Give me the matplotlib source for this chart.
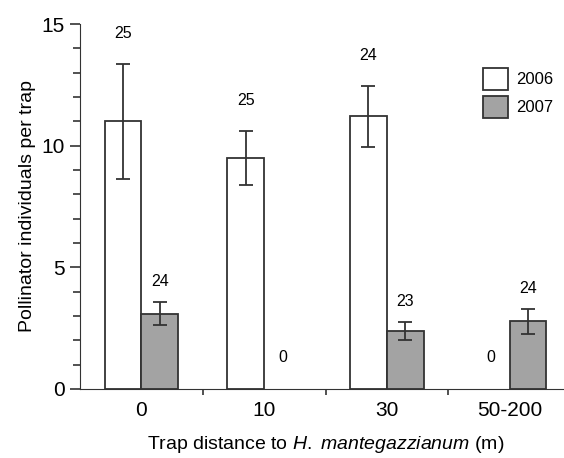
import numpy as np
import matplotlib
matplotlib.use('Agg')
import matplotlib.pyplot as plt
from matplotlib.ticker import MultipleLocator, FixedLocator

plt.rcParams['font.family'] = ['Liberation Sans', 'DejaVu Sans']
plt.rcParams['mathtext.fontset'] = 'custom'
plt.rcParams['mathtext.it'] = 'Liberation Sans:italic'
plt.rcParams['mathtext.rm'] = 'Liberation Sans'

# data
categories = ['0', '10', '30', '50-200']
mean_2006 = [11.0, 9.5, 11.2, 0.0]
err_2006 = [2.35, 1.1, 1.25, 0.0]
n_2006 = ['25', '25', '24', '0']
mean_2007 = [3.1, 0.0, 2.38, 2.78]
err_2007 = [0.48, 0.0, 0.37, 0.5]
n_2007 = ['24', '0', '23', '24']

fig = plt.figure(figsize=(5.64, 4.58), dpi=100)
ax = fig.add_axes([80 / 564, 1 - 389 / 458, 491 / 564, 365 / 458])

x = np.arange(len(categories))
w = 0.3
edge = '#333333'

for xs, m, e, col, lab in [(x - w / 2, mean_2006, err_2006, 'white', '2006'),
                           (x + w / 2, mean_2007, err_2007, '#a3a3a3', '2007')]:
    m = np.array(m)
    e = np.array(e)
    show = m > 0
    ax.bar(xs[show], m[show], width=w, color=col, edgecolor=edge, linewidth=1.3, label=lab)
    ax.errorbar(xs[show], m[show], yerr=e[show], fmt='none', ecolor=edge,
                elinewidth=1.3, capsize=5, capthick=1.3)

# sample sizes above bars
for i in range(len(categories)):
    y1 = mean_2006[i] + err_2006[i] + 1.25 if mean_2006[i] > 0 else 1.3
    ax.text(x[i] - w / 2, y1, n_2006[i], ha='center', va='center', fontsize=11.5)
    y2 = mean_2007[i] + err_2007[i] + 0.85 if mean_2007[i] > 0 else 1.3
    ax.text(x[i] + w / 2, y2, n_2007[i], ha='center', va='center', fontsize=11.5)

ax.set_xlim(-0.5, 3.5)
ax.set_ylim(0, 15)
ax.spines['top'].set_visible(False)
ax.spines['right'].set_visible(False)
ax.spines['left'].set_color(edge)
ax.spines['bottom'].set_color(edge)

ax.set_yticks([0, 5, 10, 15])
ax.yaxis.set_minor_locator(MultipleLocator(1))
ax.tick_params(axis='y', which='major', length=7, width=1.2, color=edge, labelsize=15, pad=4)
ax.tick_params(axis='y', which='minor', length=5, width=1.2, color=edge)

ax.set_xticks(x)
ax.set_xticklabels(categories)
ax.xaxis.set_minor_locator(FixedLocator([0.5, 1.5, 2.5]))
ax.tick_params(axis='x', which='major', length=0, labelsize=15, pad=9)
ax.tick_params(axis='x', which='minor', length=4, width=1.2, color=edge)

ax.set_ylabel('Pollinator individuals per trap', fontsize=14, labelpad=4)
ax.set_xlabel('Trap distance to $\\it{H.\\ mantegazzianum}$ (m)', fontsize=14, labelpad=10)

ax.legend(loc='upper left', bbox_to_anchor=(0.79, 0.92), frameon=False, fontsize=12,
          handlelength=1.5, handleheight=1.6, handletextpad=0.5, labelspacing=0.4)

plt.savefig('out.png', dpi=100)
